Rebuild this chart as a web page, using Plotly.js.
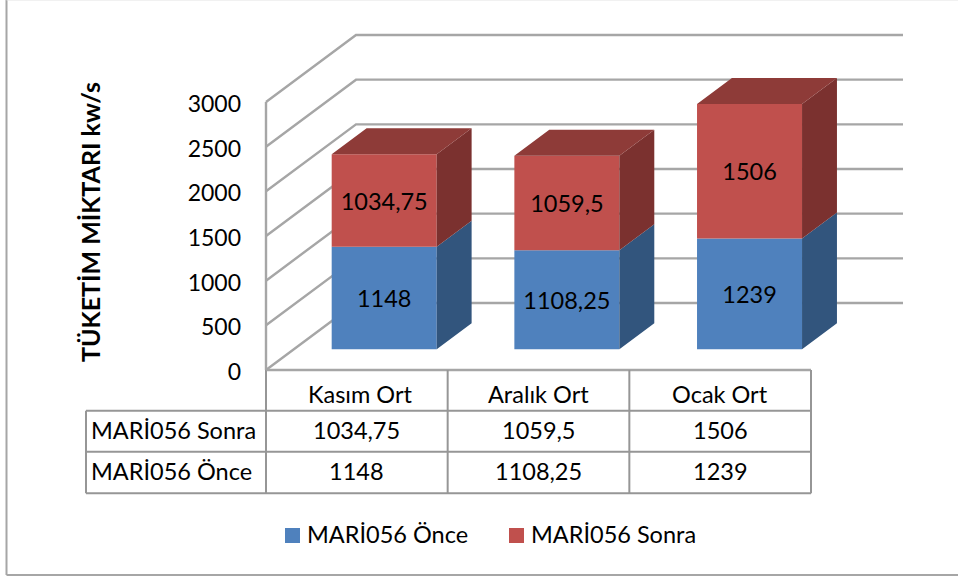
<!DOCTYPE html>
<html><head><meta charset="utf-8">
<script src="https://cdn.plot.ly/plotly-3.0.1.min.js"></script>
<style>html,body{margin:0;padding:0;background:#fff}#c{width:958px;height:579px}</style>
</head><body><div id="c"></div>
<script>
const categories = ["Kasım Ort", "Aralık Ort", "Ocak Ort"];
const onceValues = [1148, 1108.25, 1239];
const sonraValues = [1034.75, 1059.5, 1506];
const onceName = "MARİ056 Önce";
const sonraName = "MARİ056 Sonra";
const yTicks = [0, 500, 1000, 1500, 2000, 2500, 3000];
const yTitle = "TÜKETİM MİKTARI kw/s";

const W = 958, H = 579;
// plot box is a little larger than the drawn walls so that wall lines are not clipped
const plotL = 256, plotR = 903, plotT = 25, plotB = 380;
const originX = 266, originY = 370;
const catPx = 181.67, unitPx = 335 / 3750;
const xMin = (plotL - originX) / catPx, xMax = (plotR - originX) / catPx;
const yMin = (originY - plotB) / unitPx, yMax = (originY - plotT) / unitPx;
const depthX = 90 / catPx, depthY = 750;     // oblique projection of one unit of depth
const barW = 0.578, dFront = 0.309, dBar = 0.388;
const barStep = 1.0055, barStart = 0.6506;
const gridColor = "#a6a6a6", tableColor = "#969696";
const font = "Lato, 'Open Sans', sans-serif";

const fmt = v => String(v).replace(".", ",");
const px = x => (x - plotL) / (plotR - plotL);
const py = y => (plotB - y) / (plotB - plotT);

function pline(x0, y0, x1, y1, color, width) {
  return {type: "line", xref: "paper", yref: "paper", layer: "below",
    x0: px(x0), y0: py(y0), x1: px(x1), y1: py(y1), line: {color, width}};
}
function gridPath(v) {
  return {type: "path", xref: "x", yref: "y", layer: "below",
    path: `M0,${v} L${depthX},${v + depthY} L${xMax},${v + depthY}`,
    line: {color: gridColor, width: 2.4}};
}

const shapes = [];
yTicks.forEach(v => shapes.push(gridPath(v)));
shapes.push({type: "line", xref: "x", yref: "y", layer: "below", x0: 0, x1: 0, y0: 0, y1: 3000,
  line: {color: gridColor, width: 2.4}});
// table
const tableY = [410.7, 451.7, 493.3];
const colX = [0, 1, 2, 3].map(i => originX + i * catPx);
shapes.push(pline(originX, originY, colX[3], originY, gridColor, 2.4));
tableY.forEach(y => shapes.push(pline(86, y, colX[3], y, tableColor, 2)));
colX.forEach(x => shapes.push(pline(x, originY, x, tableY[2], tableColor, 2)));
shapes.push(pline(86, tableY[0], 86, tableY[2], tableColor, 2));
// chart frame
shapes.push(pline(6.5, 0, 6.5, 575, gridColor, 2));
shapes.push(pline(6.5, 575, W, 575, gridColor, 2));
shapes.push(pline(6.5, 0, W, 0, "#e4e4e4", 1));
// legend swatches
function swatch(x0, color) {
  return {type: "rect", xref: "paper", yref: "paper", layer: "above",
    x0: px(x0), x1: px(x0 + 15), y0: py(528), y1: py(543), fillcolor: color, line: {width: 0}};
}
const onceColor = "#4f81bd", sonraColor = "#c0504d";
shapes.push(swatch(285, onceColor), swatch(509, sonraColor));

// side and top faces
const barX = categories.map((c, i) => barStart + i * barStep);
function faces(bottoms, tops, kind) {
  const xs = [], ys = [];
  categories.forEach((c, i) => {
    const xL = barX[i] - barW / 2, xR = xL + barW;
    const b = bottoms[i] + dFront * depthY, t = tops[i] + dFront * depthY;
    const dx = dBar * depthX, dy = dBar * depthY;
    if (kind === "side") {
      xs.push(xR, xR + dx, xR + dx, xR, xR, null);
      ys.push(b, b + dy, t + dy, t, b, null);
    } else {
      xs.push(xL, xR, xR + dx, xL + dx, xL, null);
      ys.push(t, t, t + dy, t + dy, t, null);
    }
  });
  return {x: xs, y: ys};
}
function poly(f, color) {
  return {type: "scatter", mode: "lines", x: f.x, y: f.y, fill: "toself", fillcolor: color,
    line: {width: 0, color}, hoverinfo: "skip", showlegend: false};
}
const totals = onceValues.map((v, i) => v + sonraValues[i]);
const zeros = onceValues.map(() => 0);
const offs = dFront * depthY;
const labelFont = {family: font, size: 23.5, color: "#000"};

const traces = [
  {type: "bar", name: onceName, showlegend: false, x: barX, y: onceValues, base: zeros.map(z => z + offs), width: barW,
   marker: {color: onceColor}, text: onceValues.map(fmt), textposition: "inside", insidetextanchor: "middle",
   textangle: 0, constraintext: "none", insidetextfont: labelFont},
  {type: "bar", name: sonraName, showlegend: false, x: barX, y: sonraValues, base: onceValues.map(v => v + offs), width: barW,
   marker: {color: sonraColor}, text: sonraValues.map(fmt), textposition: "inside", insidetextanchor: "middle",
   textangle: 0, constraintext: "none", insidetextfont: labelFont},
  poly(faces(zeros, onceValues, "side"), "#32557d"),
  poly(faces(onceValues, totals, "side"), "#7b312f"),
  poly(faces(totals, totals, "top"), "#8e3b38")
];

const annotations = [];
function label(text, xp, yp, anchor, opts) {
  annotations.push(Object.assign({text, xref: "paper", yref: "paper", x: px(xp), y: py(yp),
    xanchor: anchor, yanchor: "middle", showarrow: false,
    font: labelFont}, opts || {}));
}
label(sonraName, 89, 430, "left");
label(onceName, 89, 471, "left");
categories.forEach((c, i) => {
  const cx = originX + (i + 0.5) * catPx;
  label(fmt(sonraValues[i]), cx, 430, "center");
  label(fmt(onceValues[i]), cx, 471, "center");
  label(c, cx + (i === 0 ? 3 : 0), 394, "center");
});
label(onceName, 305, 534, "left");
label(sonraName, 529, 534, "left");
label(yTitle, 90, 222, "center", {textangle: -90, font: {family: font, size: 25, color: "#000", weight: 700}});

Plotly.newPlot("c", traces, {
  width: W, height: H, paper_bgcolor: "#fff", plot_bgcolor: "rgba(0,0,0,0)",
  margin: {l: plotL, r: W - plotR, t: plotT, b: H - plotB},
  barmode: "overlay", showlegend: false, font: {family: font, size: 23, color: "#000"},
  xaxis: {range: [xMin, xMax], showticklabels: false,
    showgrid: false, zeroline: false, showline: false, ticks: ""},
  yaxis: {range: [yMin, yMax], tickmode: "array", tickvals: yTicks, ticktext: yTicks.map(String),
    showgrid: false, zeroline: false, showline: false, ticks: "", ticklabelstandoff: 14, ticklabelshift: 2,
    tickfont: {family: font, size: 23, color: "#000"}},
  shapes, annotations
}, {displayModeBar: false, staticPlot: true});
</script></body></html>
